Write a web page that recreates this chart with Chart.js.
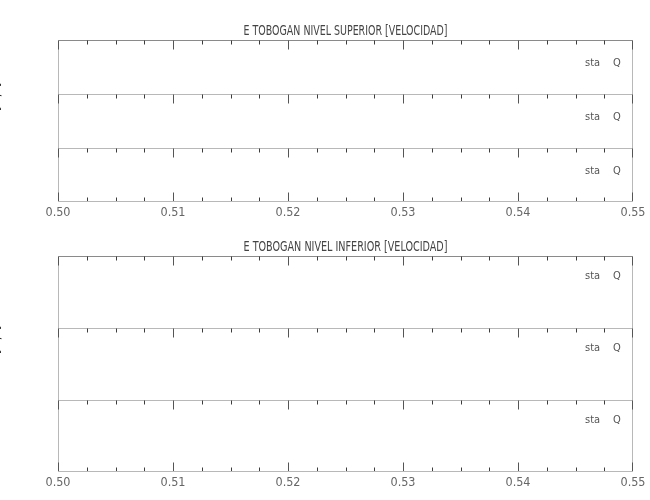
<!DOCTYPE html>
<html>
<head>
<meta charset="utf-8">
<script src="https://cdn.jsdelivr.net/npm/chart.js@4.4.1/dist/chart.umd.min.js"></script>
<style>
  body { margin: 0; background: #fff; }
  #wrap { position: relative; width: 650px; height: 500px; }
  #wrap canvas { position: absolute; left: 0; }
</style>
</head>
<body>
<div id="wrap">
  <canvas id="sup" width="650" height="230" style="top:0px"></canvas>
  <canvas id="inf" width="650" height="270" style="top:230px"></canvas>
</div>
<script>
var panelTitles = ['E TOBOGAN NIVEL SUPERIOR [VELOCIDAD]', 'E TOBOGAN NIVEL INFERIOR [VELOCIDAD]'];
var seriesNames = ['sta', 'Q'];
var subplotIds = ['y0', 'y1', 'y2'];
// the reference plots no samples, so both series are empty
var staValues = [];
var qValues = [];
var xMin = 0.50, xMax = 0.55, xStep = 0.0025;
var yLabel = '[m/s]';

var NARROW = "'Liberation Sans Narrow', 'DejaVu Sans Condensed', 'Liberation Sans', sans-serif";

function isMajor(v) {
    return Math.abs(v * 100 - Math.round(v * 100)) < 1e-6;
}

function line(ctx, x1, y1, x2, y2, color) {
    ctx.strokeStyle = color;
    ctx.beginPath();
    ctx.moveTo(x1, y1);
    ctx.lineTo(x2, y2);
    ctx.stroke();
}

var framePlugin = {
    id: 'frame',
    afterDraw: function (chart, args, opts) {
        var ctx = chart.ctx;
        var x = chart.scales.x;
        var left = chart.chartArea.left, right = chart.chartArea.right;
        var subs = subplotIds.map(function (id) { return chart.scales[id]; })
            .sort(function (a, b) { return a.top - b.top; });

        ctx.save();
        ctx.lineWidth = 1;

        subs.forEach(function (s, i) {
            var top = Math.round(s.top) + 0.5;
            var bottom = Math.round(s.bottom);
            line(ctx, left, top, right, top, i === 0 ? '#8a8a8a' : '#b8b8b8');
            line(ctx, left + 0.5, s.top, left + 0.5, bottom, '#b8b8b8');
            line(ctx, right - 0.5, s.top, right - 0.5, bottom, '#b8b8b8');

            x.ticks.forEach(function (t) {
                var px = Math.round(x.getPixelForValue(t.value)) + 0.5;
                px = Math.min(Math.max(px, left + 0.5), right - 0.5);
                var len = isMajor(t.value) ? 9 : 4;
                line(ctx, px, top, px, top + len, isMajor(t.value) ? '#555' : '#3c3c3c');
                if (i === subs.length - 1) {
                    line(ctx, px, bottom - 0.5, px, bottom - 0.5 - len, isMajor(t.value) ? '#555' : '#3c3c3c');
                }
            });

            // series names at the right of each subplot
            ctx.fillStyle = '#555';
            ctx.font = '11px ' + NARROW;
            ctx.textBaseline = 'middle';
            ctx.textAlign = 'left';
            var names = chart.data.datasets.filter(function (d) { return d.yAxisID === s.id; })
                .map(function (d) { return d.label; });
            ctx.fillText(names[0], right - 48, s.top + opts.legendDy);
            ctx.fillText(names[1], right - 20, s.top + opts.legendDy);
        });

        var last = subs[subs.length - 1];
        line(ctx, left, Math.round(last.bottom) - 0.5, right, Math.round(last.bottom) - 0.5, '#b8b8b8');

        // panel title, squeezed to the narrow plotter lettering
        ctx.font = '14px ' + NARROW;
        ctx.fillStyle = '#444';
        ctx.textAlign = 'center';
        ctx.textBaseline = 'middle';
        var w = ctx.measureText(opts.title).width;
        var k = opts.titleWidth / w;
        ctx.save();
        ctx.translate((left + right) / 2, opts.titleY);
        ctx.scale(k, 1);
        ctx.fillText(opts.title, 0, 0);
        ctx.restore();

        // y label, almost entirely cut by the left edge
        ctx.save();
        ctx.translate(-0.5, opts.yLabelY);
        ctx.rotate(-Math.PI / 2);
        ctx.font = '12px ' + NARROW;
        ctx.fillStyle = '#222';
        ctx.textAlign = 'center';
        ctx.textBaseline = 'alphabetic';
        ctx.fillText(yLabel, 0, 0);
        ctx.restore();

        ctx.restore();
    }
};

function makePanel(canvasId, title, padding, titleY, legendDy, yLabelY) {
    var datasets = [];
    subplotIds.forEach(function (id) {
        datasets.push({ label: seriesNames[0], data: staValues, yAxisID: id, borderColor: '#000', pointRadius: 0 });
        datasets.push({ label: seriesNames[1], data: qValues, yAxisID: id, borderColor: '#000', pointRadius: 0 });
    });
    var scales = {
        x: {
            type: 'linear',
            min: xMin,
            max: xMax,
            grid: { display: false, drawTicks: false },
            border: { display: false },
            afterFit: function (scale) { scale.height = 14; },
            ticks: {
                stepSize: xStep,
                autoSkip: false,
                maxRotation: 0,
                padding: 3,
                color: '#666',
                font: { family: NARROW, size: 12.5 },
                callback: function (value) {
                    return isMajor(value) ? Number(value).toFixed(2) : '';
                }
            }
        }
    };
    subplotIds.forEach(function (id) {
        scales[id] = {
            type: 'linear',
            display: false,
            position: 'left',
            stack: 'sub',
            stackWeight: 1,
            min: 0,
            max: 1
        };
    });
    return new Chart(document.getElementById(canvasId), {
        type: 'line',
        data: { datasets: datasets },
        plugins: [framePlugin],
        options: {
            responsive: false,
            animation: false,
            devicePixelRatio: 1,
            layout: { padding: padding },
            scales: scales,
            plugins: {
                legend: { display: false },
                tooltip: { enabled: false },
                frame: { title: title, titleWidth: 204, titleY: titleY, legendDy: legendDy, yLabelY: yLabelY }
            }
        }
    });
}

makePanel('sup', panelTitles[0], { top: 40, bottom: 14, left: 58, right: 17 }, 31.5, 23.5, 97);
makePanel('inf', panelTitles[1], { top: 26, bottom: 14, left: 58, right: 17 }, 17, 20.5, 110);
</script>
</body>
</html>
